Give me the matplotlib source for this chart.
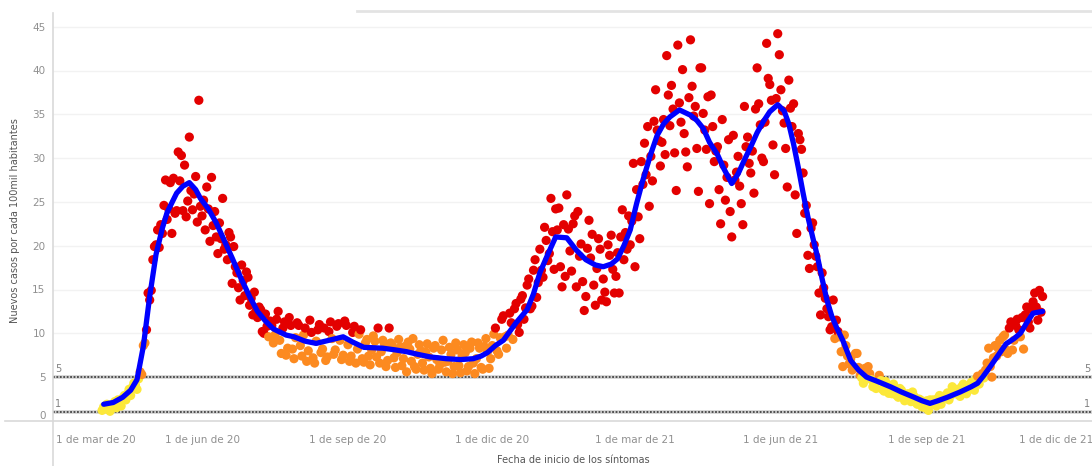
import matplotlib
matplotlib.use("Agg")
import matplotlib.pyplot as plt
import matplotlib.dates as mdates
import matplotlib.transforms as mtransforms
from matplotlib.lines import Line2D
import pandas as pd

# ---------------- data ----------------
first_day = "2020-03-30"
daily_cases = [
    1.2, 1.6, 1.4, 1.9, 1.3, 1.1, 1.5,
    1.8, 2.2, 1.5, 2.4, 2.0, 1.7, 2.6,
    2.9, 2.4, 3.1, 3.6, 2.9, 3.8, 4.3,
    4.1, 3.6, 4.8, 5.6, 5.3, 8.6, 8.9,
    10.4, 14.6, 13.8, 14.9, 18.4, 19.9, 20.1,
    21.8, 19.8, 22.4, 21.4, 24.6, 27.5, 23.0,
    24.2, 27.2, 21.4, 27.7, 23.7, 24.0, 30.7,
    27.4, 30.3, 24.0, 29.2, 23.3, 25.1, 32.4,
    26.3, 24.1, 25.9, 27.9, 22.7, 36.6, 24.5,
    23.4, 25.2, 21.8, 26.7, 24.2, 20.5, 27.8,
    22.3, 23.9, 21.0, 19.1, 22.6, 20.8, 25.4,
    19.6, 20.1, 18.4, 21.5, 21.0, 15.7, 19.9,
    17.6, 16.9, 15.2, 13.8, 17.8, 16.0, 14.3,
    17.0, 16.4, 13.2, 14.0, 12.1, 14.7, 12.5,
    11.8, 13.0, 12.7, 10.2, 10.0, 12.2, 10.8,
    9.6, 11.4, 10.9, 8.9, 9.8, 11.6, 12.5,
    9.2, 7.7, 10.6, 11.3, 7.5, 8.3, 11.8,
    10.9, 8.2, 7.1, 9.5, 11.2, 10.9, 8.6,
    7.4, 9.8, 10.6, 6.8, 8.0, 11.5, 10.1,
    7.2, 6.6, 9.1, 10.4, 11.0, 7.8, 8.2,
    10.6, 6.9, 7.3, 10.2, 11.3, 9.4, 7.6,
    8.1, 10.8, 11.1, 9.2, 7.0, 7.5, 11.4,
    10.9, 8.7, 6.8, 7.4, 10.1, 10.8, 6.6,
    8.2, 9.9, 10.4, 7.1, 6.7, 8.9, 9.3,
    7.4, 6.4, 8.1, 9.7, 9.1, 7.3, 10.6,
    6.6, 7.9, 9.2, 8.8, 6.2, 6.9, 10.6,
    8.9, 8.6, 7.2, 6.1, 7.8, 9.3, 8.4,
    6.3, 7.1, 8.5, 5.6, 9.0, 8.2, 6.8,
    9.4, 6.2, 5.9, 7.6, 8.7, 8.0, 6.6,
    5.8, 7.9, 8.8, 7.3, 6.0, 5.4, 8.3,
    8.6, 7.0, 5.9, 6.4, 8.1, 9.2, 6.7,
    5.6, 6.8, 8.4, 7.6, 5.4, 6.2, 8.9,
    8.1, 6.3, 5.5, 7.4, 8.7, 7.8, 5.7,
    6.2, 8.3, 9.0, 6.6, 5.4, 7.1, 8.9,
    8.3, 6.1, 5.9, 8.5, 9.4, 7.9, 6.0,
    7.1, 8.6, 9.9, 10.6, 8.0, 7.6, 9.5,
    11.6, 12.0, 9.6, 8.3, 9.8, 12.3, 11.2,
    9.3, 12.8, 13.4, 11.0, 10.1, 13.9, 14.3,
    11.6, 12.9, 15.5, 16.2, 12.8, 13.1, 17.2,
    18.4, 14.1, 15.8, 19.6, 17.2, 16.4, 22.1,
    20.6, 18.3, 19.1, 25.4, 21.6, 17.3, 24.2,
    21.8, 24.3, 17.6, 15.3, 22.4, 16.5, 25.8,
    21.9, 19.4, 17.1, 22.5, 23.4, 15.3, 23.9,
    18.8, 20.2, 15.9, 12.6, 14.2, 19.7, 22.9,
    18.6, 21.3, 15.5, 13.2, 17.4, 20.8, 19.6,
    13.8, 16.2, 14.7, 13.6, 20.1, 18.9, 21.2,
    17.3, 14.6, 16.5, 19.2, 14.6, 21.0, 24.1,
    18.4, 21.5, 19.6, 23.4, 20.1, 22.8, 29.4,
    17.6, 26.4, 23.3, 20.8, 29.6, 27.0, 31.7,
    28.1, 33.6, 24.5, 30.2, 27.4, 34.2, 37.8,
    33.2, 32.0, 29.1, 31.8, 34.4, 30.4, 41.7,
    37.2, 33.7, 38.3, 35.6, 30.6, 26.3, 42.9,
    36.3, 34.1, 40.1, 32.8, 30.7, 29.0, 36.9,
    43.5, 38.2, 34.8, 35.9, 31.1, 26.2, 40.3,
    40.3, 35.1, 33.2, 31.0, 37.0, 24.8, 37.2,
    33.6, 29.6, 30.8, 31.3, 26.4, 22.5, 34.4,
    29.2, 25.2, 27.8, 32.1, 23.9, 21.0, 32.6,
    27.5, 28.4, 30.2, 26.8, 24.8, 22.4, 35.9,
    31.3, 32.4, 29.4, 28.3, 30.8, 26.0, 35.6,
    40.3, 36.2, 33.8, 30.0, 29.6, 34.1, 43.1,
    39.1, 38.4, 36.6, 31.5, 28.1, 36.8, 44.2,
    41.8, 37.8, 35.4, 34.0, 31.1, 26.7, 38.9,
    35.7, 33.6, 36.2, 25.8, 21.4, 32.8, 32.1,
    31.0, 28.3, 23.7, 24.6, 18.9, 17.4, 22.0,
    22.6, 20.1, 18.8, 17.6, 14.6, 12.1, 16.9,
    15.2, 14.0, 12.8, 11.9, 10.4, 10.75, 13.8,
    9.4, 11.5, 10.2, 9.6, 7.9, 6.2, 9.8,
    8.6, 7.4, 6.5, 7.1, 5.8, 6.0, 7.7,
    7.7, 6.1, 5.2, 4.9, 4.3, 6.0, 5.6,
    6.2, 5.4, 4.7, 3.9, 4.1, 3.7, 4.8,
    5.2, 4.6, 3.6, 3.4, 4.5, 4.2, 3.15,
    3.7, 3.1, 4.2, 3.6, 2.9, 2.7, 3.7,
    3.5, 2.9, 2.3, 2.6, 3.1, 2.9, 2.2,
    3.3, 2.8, 2.1, 1.9, 2.5, 2.4, 1.6,
    1.7, 1.5, 2.3, 1.2, 2.4, 1.9, 2.4,
    2.1, 1.7, 2.6, 2.9, 1.9, 2.8, 2.6,
    2.9, 3.2, 2.4, 2.9, 3.9, 3.3, 3.1,
    3.6, 3.0, 2.8, 3.9, 4.2, 3.4, 3.1,
    3.5, 4.1, 4.4, 3.8, 3.5, 4.8, 5.1,
    4.2, 5.0, 5.4, 4.9, 5.8, 6.6, 8.3,
    6.2, 5.0, 7.2, 8.6, 7.4, 8.3, 9.2,
    7.9, 9.6, 9.8, 8.1, 7.7, 10.6, 11.3,
    8.1, 9.2, 10.9, 11.6, 10.4, 9.6, 11.8,
    8.2, 12.1, 13.0, 11.3, 10.6, 12.7, 13.6,
    14.6, 13.0, 11.5, 14.9, 12.4, 14.2,
]

avg_dates = [
    "2020-03-31", "2020-04-06", "2020-04-12", "2020-04-17", "2020-04-21",
    "2020-04-25", "2020-04-29", "2020-05-03", "2020-05-07", "2020-05-10",
    "2020-05-16", "2020-05-20", "2020-05-24", "2020-05-28", "2020-05-31",
    "2020-06-05", "2020-06-10", "2020-06-15", "2020-06-20", "2020-06-25",
    "2020-07-01", "2020-07-06", "2020-07-11", "2020-07-16", "2020-07-24",
    "2020-07-29", "2020-08-05", "2020-08-12", "2020-08-20", "2020-08-29",
    "2020-09-04", "2020-09-11", "2020-09-23", "2020-10-01", "2020-10-08",
    "2020-10-15", "2020-10-23", "2020-11-02", "2020-11-11", "2020-11-19",
    "2020-11-24", "2020-11-28", "2020-12-03", "2020-12-08", "2020-12-12",
    "2020-12-16", "2020-12-23", "2020-12-27", "2020-12-31", "2021-01-05",
    "2021-01-10", "2021-01-17", "2021-01-23", "2021-01-29", "2021-02-04",
    "2021-02-09", "2021-02-14", "2021-02-18", "2021-02-22", "2021-02-26",
    "2021-03-02", "2021-03-06", "2021-03-11", "2021-03-15", "2021-03-19",
    "2021-03-23", "2021-03-29", "2021-04-05", "2021-04-09", "2021-04-13",
    "2021-04-17", "2021-04-22", "2021-04-26", "2021-05-01", "2021-05-05",
    "2021-05-09", "2021-05-13", "2021-05-17", "2021-05-21", "2021-05-25",
    "2021-05-30", "2021-06-03", "2021-06-06", "2021-06-09", "2021-06-12",
    "2021-06-15", "2021-06-18", "2021-06-21", "2021-06-24", "2021-06-27",
    "2021-06-30", "2021-07-03", "2021-07-06", "2021-07-10", "2021-07-15",
    "2021-07-20", "2021-07-25", "2021-08-01", "2021-08-09", "2021-08-16",
    "2021-08-24", "2021-08-29", "2021-09-03", "2021-09-08", "2021-09-14",
    "2021-09-22", "2021-09-29", "2021-10-03", "2021-10-07", "2021-10-11",
    "2021-10-16", "2021-10-21", "2021-10-26", "2021-10-30", "2021-11-03",
    "2021-11-07", "2021-11-13",
]
avg_values = [
    1.9, 2.1, 2.7, 3.5, 4.7,
    8.5, 14.2, 19.0, 22.0, 23.8,
    26.0, 26.8, 27.2, 26.4, 25.4,
    24.2, 22.6, 20.6, 18.6, 16.5,
    14.2, 12.5, 11.4, 10.5, 9.8,
    9.6, 9.1, 8.85, 9.2, 9.6,
    9.0, 8.4, 8.3, 8.1, 7.9,
    7.6, 7.3, 7.1, 7.0, 7.1,
    7.4, 7.8, 8.6, 9.2, 10.2,
    11.2, 12.7, 14.5, 16.9, 19.0,
    21.0, 20.9, 19.5, 18.4, 17.8,
    17.6, 17.9, 18.5, 20.0, 21.8,
    24.8, 27.5, 30.5, 32.6, 33.9,
    34.7, 35.5, 34.9, 34.3, 33.4,
    31.8, 30.4, 28.8, 27.1, 28.2,
    29.8, 31.3, 32.9, 34.2, 35.3,
    36.1, 35.4, 33.9, 31.6, 28.9,
    26.0, 23.3, 21.0, 18.8, 16.2,
    13.8, 12.0, 10.7, 9.2, 6.9,
    5.8, 5.0, 4.5, 3.9, 3.3,
    2.7, 2.3, 2.0, 2.3, 2.7,
    3.3, 3.9, 4.3, 5.2, 6.2,
    7.5, 8.8, 9.4, 10.0, 11.2,
    12.3, 12.5,
]

tick_dates = ["2020-03-01", "2020-06-01", "2020-09-01", "2020-12-01",
              "2021-03-01", "2021-06-01", "2021-09-01", "2021-12-01"]
tick_labels = ["1 de mar de 20", "1 de jun de 20", "1 de sep de 20", "1 de dic de 20",
               "1 de mar de 21", "1 de jun de 21", "1 de sep de 21", "1 de dic de 21"]
y_ticks = [0, 5, 10, 15, 20, 25, 30, 35, 40, 45]
reference_levels = [5, 1]
level_low, level_high = 5, 10

# ---------------- styling ----------------
YELLOW = "#fce83a"
ORANGE = "#fc8a20"
RED = "#e30000"
BLUE = "#0000ff"
TICK_GRAY = "#909090"
AXIS_GRAY = "#d9d9d9"

W, H = 1092, 466
fig = plt.figure(figsize=(W / 100, H / 100), dpi=100)
fig.patch.set_facecolor("white")

ax_left_px, ax_right_px = 52.5, 1092
ax_bottom_px, ax_top_px = 420.9, 13
ax = fig.add_axes([ax_left_px / W, 1 - ax_bottom_px / H,
                   (ax_right_px - ax_left_px) / W, (ax_bottom_px - ax_top_px) / H])

dates = pd.date_range(first_day, periods=len(daily_cases), freq="D")
colors = [YELLOW if v < level_low else (ORANGE if v < level_high else RED) for v in daily_cases]
ax.scatter(dates, daily_cases, s=44, c=colors, linewidths=0, zorder=3)

ax.plot(pd.to_datetime(avg_dates), avg_values, color=BLUE, lw=3.8,
        solid_capstyle="round", solid_joinstyle="round", zorder=4)

# reference dotted lines
for lv in reference_levels:
    ax.axhline(lv, color="#d0d0d0", lw=2.6, zorder=1)
    ax.axhline(lv, color="#444444", lw=1.3, ls=(0, (1.0, 0.9)), zorder=2)

# faint grid
for yv in y_ticks[1:]:
    ax.axhline(yv, color="#f2f2f2", lw=1.0, zorder=0)

t0 = mdates.date2num(pd.Timestamp("2020-03-01"))
px_per_day = 1.586
x0_px = 56.1
ax.set_xlim(t0 + (ax_left_px - x0_px) / px_per_day, t0 + (ax_right_px - x0_px) / px_per_day)
px_per_unit = 8.76
ax.set_ylim(0, (ax_bottom_px - ax_top_px) / px_per_unit)

ax.set_xticks(pd.to_datetime(tick_dates))
ax.set_xticklabels(tick_labels)
ax.set_yticks(y_ticks)
ax.set_yticklabels([str(v) for v in y_ticks])
ax.tick_params(axis="both", length=0, colors=TICK_GRAY, labelsize=7.5)
ax.tick_params(axis="x", pad=10)
ax.tick_params(axis="y", pad=5)
xl = ax.get_xticklabels()
xl[0].set_ha("left")
# keep the last label inside the figure (shift it left so it ends at the edge)
xl[-1].set_ha("right")
xl[-1].set_transform(xl[-1].get_transform() +
                     mtransforms.ScaledTranslation(22 / 100, 0, fig.dpi_scale_trans))
yl = ax.get_yticklabels()
yl[0].set_va("bottom")

for sp in ["top", "right"]:
    ax.spines[sp].set_visible(False)
ax.spines["left"].set_color(AXIS_GRAY)
ax.spines["bottom"].set_color(AXIS_GRAY)
ax.spines["left"].set_linewidth(1.2)
ax.spines["bottom"].set_linewidth(1.2)

# extensions of the axis lines
fig.add_artist(Line2D([ax_left_px / W, ax_left_px / W], [0, 1 - ax_bottom_px / H],
                      color=AXIS_GRAY, lw=1.2, transform=fig.transFigure))
fig.add_artist(Line2D([5 / W, ax_left_px / W], [1 - ax_bottom_px / H] * 2,
                      color=AXIS_GRAY, lw=1.2, transform=fig.transFigure))
# top separator line
fig.add_artist(Line2D([357 / W, 1.0], [1 - 10.7 / H] * 2, color="#e3e3e3", lw=2.0,
                      transform=fig.transFigure))

# level labels
blend = mtransforms.blended_transform_factory(fig.transFigure, ax.transData)
for lv in reference_levels:
    ax.text(55 / W, lv + 0.35, str(lv), transform=blend, fontsize=7, color="#808080",
            ha="left", va="bottom")
    ax.text(1084 / W, lv + 0.35, str(lv), transform=blend, fontsize=7, color="#808080",
            ha="left", va="bottom", clip_on=False)

ax.set_ylabel("Nuevos casos por cada 100mil habitantes", fontsize=7, color="#555555")
ax.yaxis.set_label_coords((20 - ax_left_px) / (ax_right_px - ax_left_px), 0.49)
fig.text(573 / W, 1 - 460 / H, "Fecha de inicio de los síntomas", fontsize=7,
         color="#555555", ha="center", va="center")

fig.savefig("out.png", dpi=100, facecolor="white")
